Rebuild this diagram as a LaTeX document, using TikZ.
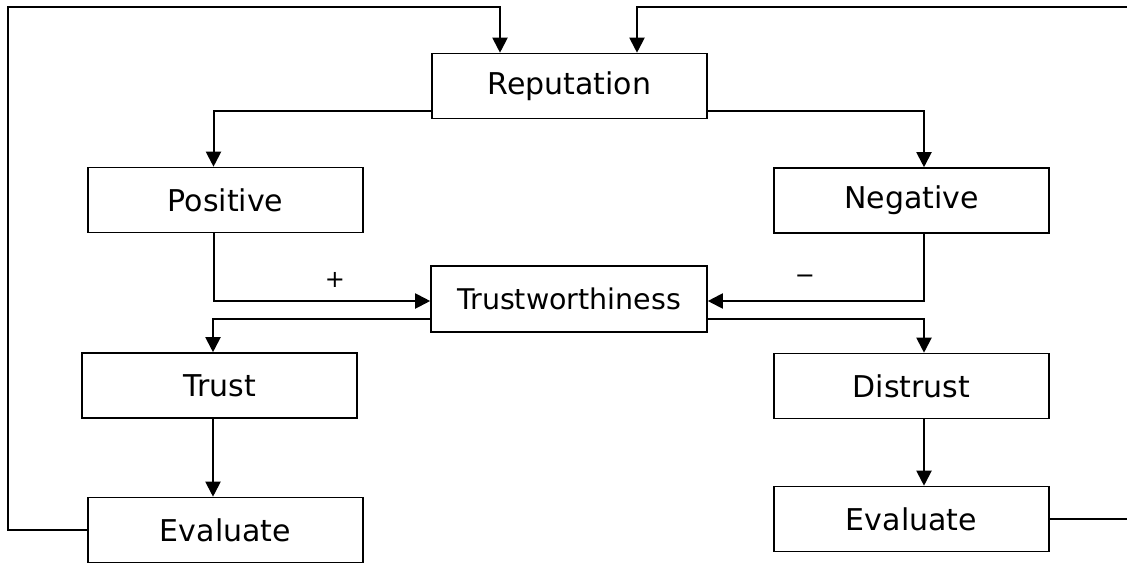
\documentclass[tikz,border=0pt]{standalone}
\usepackage{fontspec}
\setmainfont{DejaVu Sans}
\usetikzlibrary{arrows.meta}
\begin{document}
\begin{tikzpicture}[x=1pt,y=-1pt,
  box/.style={draw=black, line width=1.6pt, fill=white, minimum width=275pt,
    minimum height=65pt, inner sep=0pt, font=\fontsize{30}{36}\selectfont},
  conn/.style={draw=black, line width=2pt},
  arr/.style={conn, -{Triangle[length=15pt,width=15pt]}},
  sign/.style={font=\fontsize{24}{28}\selectfont, inner sep=0pt}]
  \useasboundingbox (0,0) rectangle (1127,563);

  % boxes
  \node[box] (rep)   at (569.5,86)   {Reputation};
  \node[box] (pos)   at (225.5,200)  {Positive};
  \node[box] (neg)   at (911.5,200.5){Negative};
  \node[box, minimum width=276pt, minimum height=66pt,
        font=\fontsize{28.5}{34}\selectfont] (tw) at (569,299) {Trustworthiness};
  \node[box] (trust) at (219.5,385.5){Trust};
  \node[box] (dis)   at (911.5,386)  {Distrust};
  \node[box] (evl)   at (225.5,530)  {Evaluate};
  \node[box] (evr)   at (911.5,519)  {Evaluate};

  % signs on the inputs of trustworthiness
  \node[sign] (plus)  at (335,280) {+};
  \node[sign] (minus) at (805,279) {−};

  % corners of the two feedback loops (the right one runs past the edge)
  \coordinate (lc) at (8,7);
  \coordinate (rc) at (1130,7);

  % feedback loops back to reputation
  \draw[arr] (evl.west) -- (evl.west -| lc) -- (lc) -| ([xshift=-69.5pt]rep.north);
  \draw[arr] (evr.east) -- (evr.east -| rc) -- (rc) -| ([xshift=67.5pt]rep.north);

  % reputation splits into positive and negative
  \draw[arr] ([yshift=-25pt]rep.west) -| ([xshift=-12pt]pos.north);
  \draw[arr] ([yshift=-25pt]rep.east) -| ([xshift=12.5pt]neg.north);

  % positive and negative feed trustworthiness
  \draw[arr] ([xshift=-12pt]pos.south) |- ([yshift=-2pt]tw.west);
  \draw[arr] ([xshift=12.5pt]neg.south) |- ([yshift=-2pt]tw.east);

  % trustworthiness leads to trust or distrust
  \draw[arr] ([yshift=-20pt]tw.west) -| ([xshift=-6.5pt]trust.north);
  \draw[arr] ([yshift=-20pt]tw.east) -| ([xshift=12.5pt]dis.north);

  % evaluation steps
  \draw[arr] ([xshift=-6.5pt]trust.south) -- ([xshift=-12.5pt]evl.north);
  \draw[arr] ([xshift=12.5pt]dis.south) -- ([xshift=12.5pt]evr.north);
\end{tikzpicture}
\end{document}
